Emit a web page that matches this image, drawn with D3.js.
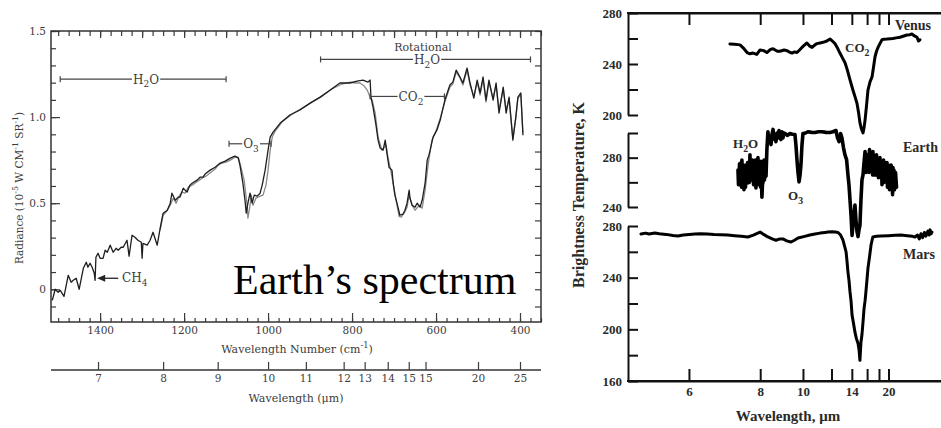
<!DOCTYPE html>
<html><head><meta charset="utf-8">
<script src="https://cdn.jsdelivr.net/npm/d3@7"></script>
<style>body{margin:0;background:#fff}svg{display:block}</style>
</head><body>
<svg id="c" width="941" height="428"></svg>
<script>
// ---------- LEFT PANEL DATA (wavenumber cm-1, radiance 1e-5 W cm-1 sr-1) ----------
const leftNuA = [1514,1507,1500,1495,1486,1476,1469,1464,1457,1450,1440,1433,1429,1424,1419,1414,1412,1410,1405,1400,1393,1388,1383,1376,1369,1362,1357,1350,1345,1336,1331,1324,1317,1310,1302,1300,1298,1288,1281,1274,1264,1257,1250,1240,1233,1229,1221,1214,1210,1202,1193,1186,1181,1169,1162,1155,1150,1138,1126,1114,1102,1090,1079,1071,1067,1060,1055,1052,1048,1043,1038,1033,1026,1019,1014,1007,1000,995,988,971,948,924,900,876,852,829,805,788,774,762,757,755,750,743,738,733,726,721,717,712,705,702,698,693,686,679,674,669,664,662,657,650,645,638,633,626,621,617,614,607,598,590,579,567,560,552,543,536,526,519,510,502,495,488,481,474,464,457,450,440,433,426,417,410,405,398,393];
const leftRadA = [-0.064,0.0,-0.017,-0.006,-0.041,0.081,0.041,0.052,0.064,0.0,0.122,0.157,0.128,0.151,0.128,0.093,0.052,0.186,0.209,0.180,0.180,0.227,0.215,0.256,0.215,0.238,0.227,0.244,0.244,0.285,0.192,0.314,0.302,0.285,0.273,0.180,0.267,0.256,0.285,0.331,0.256,0.355,0.442,0.459,0.500,0.558,0.517,0.535,0.535,0.587,0.564,0.605,0.616,0.634,0.651,0.651,0.669,0.692,0.709,0.733,0.744,0.762,0.773,0.762,0.721,0.616,0.517,0.442,0.500,0.558,0.500,0.547,0.541,0.558,0.605,0.692,0.808,0.884,0.913,0.965,1.012,1.041,1.081,1.116,1.157,1.198,1.198,1.209,1.215,1.203,1.215,1.116,1.058,0.953,0.866,0.820,0.808,0.866,0.791,0.709,0.692,0.616,0.547,0.500,0.430,0.436,0.459,0.500,0.576,0.529,0.488,0.477,0.500,0.477,0.517,0.616,0.750,0.779,0.808,0.884,0.924,0.983,1.099,1.186,1.203,1.273,1.233,1.198,1.285,1.198,1.110,1.215,1.140,1.233,1.099,1.215,1.099,1.198,1.023,1.174,1.023,1.116,0.866,1.000,1.116,1.140,0.895];
const leftNuB = [1257,1250,1243,1233,1226,1219,1212,1205,1198,1190,1181,1171,1164,1157,1148,1136,1126,1119,1110,1100,1090,1079,1071,1067,1057,1050,1048,1043,1040,1036,1029,1019,1012,1005,1000,995,990,983,967,943,919,895,871,848,824,805,793,781,771,764,757,752,745,738,729,719,714,707,695,688,683,676,669,664,657,650,640,633,626,619,610,600,590,579,567,560,552,543,536,526,519,510,502,495,488,481,474,464,457,450,440,433,426,417,410,405,398,393];
const leftRadB = [0.343,0.430,0.448,0.488,0.529,0.500,0.541,0.564,0.558,0.593,0.605,0.622,0.634,0.645,0.657,0.680,0.698,0.721,0.733,0.738,0.750,0.767,0.767,0.733,0.634,0.488,0.413,0.488,0.547,0.488,0.529,0.541,0.547,0.605,0.692,0.808,0.884,0.919,0.971,1.017,1.052,1.087,1.122,1.163,1.192,1.203,1.198,1.198,1.180,1.157,1.116,1.099,1.023,0.884,0.808,0.837,0.762,0.680,0.517,0.424,0.419,0.442,0.477,0.547,0.488,0.459,0.488,0.471,0.576,0.721,0.866,0.919,0.994,1.087,1.174,1.192,1.262,1.227,1.186,1.273,1.186,1.122,1.203,1.128,1.221,1.087,1.203,1.110,1.186,1.041,1.163,1.041,1.105,0.878,0.994,1.110,1.128,0.907];
const leftYTicks = [0, 0.5, 1.0, 1.5];
const leftYLabels = ["0", "0.5", "1.0", "1.5"];
const leftNuTicks = [1400, 1200, 1000, 800, 600, 400];
const micronTickNu = [1405, 1250, 1120, 1000, 910, 820, 770, 715, 665, 625, 500, 400];
const micronTickLabels = ["7", "8", "9", "10", "11", "12", "13", "14", "15", "15", "20", "25"];

// ---------- RIGHT PANEL DATA (wavenumber cm-1, brightness temperature K) ----------
const venusNu = [1427,1400,1368,1345,1327,1310,1292,1270,1251,1230,1211,1190,1175,1150,1135,1110,1094,1075,1064,1050,1035,1020,1006,990,977,960,947,930,918,900,883,860,842,828,813,800,784,770,754,740,725,708,695,684,675,667,658,649,643,637,628,620,608,596,587,579,570,561,550,538,525,509,490,474,455,433,410,392,375,363,348,333,325,316];
const venusT = [255.7,255.5,255,252,249,248,248.6,247.5,251,250.5,249,251.5,252,250,250,251,250.5,249,248.6,249.5,249,251,253,255,256.5,254,253,255,256,256.5,257,258,259.6,258,256,253,248.6,245,241,235,227.5,219.6,214,209,202,194,189,186,190,196,208,219.6,226,230,238,245.5,250,253,256,259,259.5,259.6,259.8,260,260.5,261,262,262.7,263,263.5,262,261,258,259];
const earthNu = [1380,1377,1374,1371,1368,1365,1362,1359,1357,1354,1351,1348,1345,1342,1339,1336,1333,1330,1327,1324,1322,1319,1316,1313,1310,1307,1304,1301,1298,1295,1292,1289,1287,1284,1281,1278,1275,1272,1269,1266,1263,1260,1257,1254,1251,1248,1246,1243,1240,1237,1234,1231,1228,1225,1222,1219,1216,1211,1205,1199,1193,1187,1181,1175,1170,1164,1158,1152,1146,1140,1134,1129,1123,1117,1111,1105,1090,1076,1062,1047,1041,1035,1029,1023,1017,1012,1006,1000,985,971,950,930,910,889,865,842,825,807,798,789,780,772,763,754,745,737,731,725,719,713,708,702,696,690,684,678,672,667,661,655,649,643,637,632,626,623,620,617,614,611,608,605,602,599,596,593,591,588,585,582,579,576,573,570,567,564,562,559,556,553,550,547,544,541,538,535,532,529,526,523,520,517,515,512,509,506,503,500,497,494,491,488,485,482,479,476,474,471,468,465,462,459,456,453,450,447,444,441,439,436,433];
const earthT = [270,258,262,275,258,272,276,256,278,262,260,274,254,270,271,256,274,262,262,276,259.6,272,276,260,282.4,264,266,272,262,278,275,258,274,270,263,278,255.5,268,270,258,280,262,268,276,266,256,277,262,248,258,260,274,278,262,270,276,265,286.5,301,294,296,290.6,299,302.9,295,298,293,300,296,302,297,294.7,301,296,300,299.6,298,299.6,299,298.8,290,278,268,260.4,266,274,290,299.6,300,301,300.5,300.4,301,301,300.5,300.4,301,302,296,293,299.6,296,288,282,278.4,266,258,245.7,233.5,217,225,233.5,241.6,229,220,216,222,225,245.7,262,266,276,285,268,270,280,274,283,268,286.5,272,278,270,284,281,266,285,270,268,282,266,279,274,282.4,266,270,278,263.7,275,272,280,266,264,276,258,272,266,278,260,265,276,262,270,264,276,256,258,274,268,254,262,268,274,256,262,250,272,262,270,254,258,268,262,256];
const marsNu = [1947,1920,1900,1866,1840,1800,1760,1731,1700,1665,1632,1600,1560,1520,1480,1439,1400,1360,1322,1290,1251,1230,1205,1180,1158,1135,1117,1095,1070,1050,1029,990,960,930,900,870,854,830,810,795,780,766,756,748,742,737,731,725,719,713,705,696,688,678,672,667,661,655,649,643,637,632,626,620,611,602,596,591,570,544,500,460,427,390,360,345,330,320,310,300,290,281,270,262,257,250,246];
const marsT = [273.8,274.5,273.8,274.6,274,273.5,272.6,272.2,273,273.5,273.8,274,273.8,273.4,273.2,273,272.5,272,271.5,273,275.3,273.5,271.5,270,269,270,270,268.5,267.6,269,270.7,272,273,273.8,274.5,275,275.3,275.5,275.3,275,273,269,264,260,252,244.3,238,229,222,211,205,197.8,193,189,184,176,190,196,205.6,216,222,229,238,247.4,256,265.3,269,271.5,272,272.2,272.5,272.8,273,272.5,272,271.5,273,270,274,271,275,272.2,276,273,277,274,275.3];
const rightTickMicrons = [6, 8, 10, 12, 14, 16, 18, 20];
const rightLabeledMicrons = [6, 8, 10, 14, 20];
const venusTicks = [280, 260, 240, 220, 200];
const earthTicks = [300, 280, 260, 240];
const marsTicks = [280, 260, 240, 220, 200, 180, 160];
const venusLabeled = [280, 240, 200];
const earthLabeled = [280, 240];
const marsLabeled = [280, 240, 200, 160];

// ---------- DRAW ----------
const svg = d3.select("#c");
const serif = "DejaVu Serif, serif";
const times = "Liberation Serif, Times New Roman, serif";
const lg = "#3c3c3c";

const xL = d3.scaleLinear().domain([1517, 350]).range([51, 541]);
const yL = d3.scaleLinear().domain([-0.19, 1.5]).range([322, 31]);
const L = svg.append("g");

function styleAxis(g, font, size, color, weight) {
  g.selectAll("path.domain").remove();
  g.selectAll("line").attr("stroke", color).attr("stroke-width", 1.2);
  g.selectAll("text").filter(function () { return !this.textContent; }).remove();
  g.selectAll("text").attr("font-family", font).attr("font-size", size).attr("fill", color).attr("font-weight", weight || "normal");
}

// rich text: parts [text, shift] shift 0 normal, 1 subscript, -1 superscript
function rich(t, parts, size, subK, supK) {
  let pending = 0;
  parts.forEach(p => {
    const s = t.append("tspan").text(p[0]);
    let dy = -pending;
    if (p[1] === 1) { dy += subK * size; pending = subK * size; s.attr("font-size", size * 0.75); }
    else if (p[1] === -1) { dy += -supK * size; pending = -supK * size; s.attr("font-size", size * 0.75); }
    else pending = 0;
    if (dy !== 0) s.attr("dy", dy);
  });
  return t;
}

const nuMinor = d3.range(1500, 349, -25);
const radMinor = d3.range(-0.1, 1.501, 0.1);
L.append("g").attr("transform", "translate(0,322)").call(d3.axisBottom(xL).tickValues(nuMinor).tickSizeInner(-4).tickSizeOuter(0).tickFormat("")).call(g => styleAxis(g, serif, 10, lg));
L.append("g").attr("transform", "translate(0,31)").call(d3.axisTop(xL).tickValues(nuMinor).tickSizeInner(-5).tickSizeOuter(0).tickFormat("")).call(g => styleAxis(g, serif, 10, lg));
L.append("g").attr("transform", "translate(0,31)").call(d3.axisTop(xL).tickValues(leftNuTicks.concat([1300,1100,900,700,500])).tickSizeInner(-7).tickSizeOuter(0).tickFormat("")).call(g => styleAxis(g, serif, 10, lg));
L.append("g").attr("transform", "translate(51,0)").call(d3.axisLeft(yL).tickValues(radMinor).tickSizeInner(-5).tickSizeOuter(0).tickFormat("")).call(g => styleAxis(g, serif, 10, lg));
L.append("g").attr("transform", "translate(541,0)").call(d3.axisRight(yL).tickValues(radMinor).tickSizeInner(-6).tickSizeOuter(0).tickFormat("")).call(g => styleAxis(g, serif, 10, lg));
L.append("g").attr("transform", "translate(0,322)").call(d3.axisBottom(xL).tickValues(leftNuTicks).tickSizeInner(-9).tickSizeOuter(0).tickPadding(5).tickFormat(d => String(d))).call(g => styleAxis(g, serif, 10.5, lg));
L.append("g").attr("transform", "translate(51,0)").call(d3.axisLeft(yL).tickValues(leftYTicks).tickSizeInner(-9).tickSizeOuter(0).tickPadding(5).tickFormat((d, i) => leftYLabels[i])).call(g => styleAxis(g, serif, 10.5, lg));
L.append("rect").attr("x", 51).attr("y", 31).attr("width", 490).attr("height", 291).attr("fill", "none").attr("stroke", "#333").attr("stroke-width", 1.5);

L.append("line").attr("x1", 51).attr("x2", 541).attr("y1", 370).attr("y2", 370).attr("stroke", "#333").attr("stroke-width", 1.3);
L.append("g").attr("transform", "translate(0,370)").call(d3.axisBottom(xL).tickValues(micronTickNu).tickSizeInner(-8).tickSizeOuter(0).tickPadding(5).tickFormat((d, i) => micronTickLabels[i])).call(g => styleAxis(g, serif, 10.5, lg));

const t1 = L.append("text").attr("x", 297).attr("y", 353).attr("text-anchor", "middle").attr("font-family", serif).attr("font-size", 11).attr("fill", lg);
rich(t1, [["Wavelength Number (cm", 0], ["-1", -1], [")", 0]], 11, 0.3, 0.45);
L.append("text").attr("x", 296).attr("y", 402).attr("text-anchor", "middle").attr("font-family", serif).attr("font-size", 11).attr("fill", lg).text("Wavelength (\u03bcm)");
const t3 = L.append("text").attr("transform", "translate(23,188) rotate(-90)").attr("text-anchor", "middle").attr("font-family", serif).attr("font-size", 10.5).attr("fill", lg);
rich(t3, [["Radiance (10", 0], ["-5", -1], [" W CM", 0], ["-1", -1], [" SR", 0], ["-1", -1], [")", 0]], 10.5, 0.3, 0.45);

const lineL = d3.line().x(d => xL(d[0])).y(d => yL(d[1]));
const ptsA = leftNuA.map((n, i) => [n, leftRadA[i]]);
const ptsB = leftNuB.map((n, i) => [n, leftRadB[i]]);
L.append("path").attr("d", lineL(ptsB)).attr("fill", "none").attr("stroke", "#8a8a8a").attr("stroke-width", 1.3).attr("stroke-linejoin", "round");
L.append("path").attr("d", lineL(ptsA)).attr("fill", "none").attr("stroke", "#1e1e1e").attr("stroke-width", 1.3).attr("stroke-linejoin", "round");

function chem(g, x, y, parts, size, anchor, font, color, weight) {
  const t = g.append("text").attr("x", x).attr("y", y).attr("text-anchor", anchor || "middle").attr("font-family", font).attr("font-size", size).attr("fill", color).attr("font-weight", weight || "normal");
  return rich(t, parts, size, 0.3, 0.45);
}
const bands = [
  {x1: 1495, x2: 1100, y: 1.22, label: [["H", 0], ["2", 1], ["O", 0]], cx: 146},
  {x1: 1093, x2: 993, y: 0.845, label: [["O", 0], ["3", 1]], cx: 251},
  {x1: 875, x2: 375, y: 1.335, label: [["H", 0], ["2", 1], ["O", 0]], cx: 427},
  {x1: 757, x2: 580, y: 1.12, label: [["CO", 0], ["2", 1]], cx: 411}
];
bands.forEach(b => {
  const y = yL(b.y), x1 = xL(b.x1), x2 = xL(b.x2);
  const t = chem(L, b.cx, y + 4.5, b.label, 12, "middle", serif, lg);
  const bb = t.node().getBBox();
  L.append("line").attr("x1", x1).attr("x2", bb.x - 1).attr("y1", y).attr("y2", y).attr("stroke", "#444").attr("stroke-width", 1.2);
  L.append("line").attr("x1", bb.x + bb.width + 1).attr("x2", x2).attr("y1", y).attr("y2", y).attr("stroke", "#444").attr("stroke-width", 1.2);
  [x1, x2].forEach(x => L.append("line").attr("x1", x).attr("x2", x).attr("y1", y - 3).attr("y2", y + 3).attr("stroke", "#444").attr("stroke-width", 1.2));
});
L.append("text").attr("x", 423).attr("y", 51).attr("text-anchor", "middle").attr("font-family", serif).attr("font-size", 11).attr("fill", lg).text("Rotational");
const ay = yL(0.064);
L.append("line").attr("x1", xL(1357)).attr("x2", xL(1402)).attr("y1", ay).attr("y2", ay).attr("stroke", "#222").attr("stroke-width", 1.3);
L.append("path").attr("d", `M${xL(1407)},${ay} l8,-3.5 l0,7 z`).attr("fill", "#222");
chem(L, 122, ay + 4, [["CH", 0], ["4", 1]], 12, "start", serif, lg);

L.append("text").attr("x", 233).attr("y", 294).attr("font-family", times).attr("font-size", 42).attr("fill", "#000").text("Earth\u2019s spectrum");

// ---------- RIGHT PANEL ----------
const R = svg.append("g");
const xR = d3.scaleLinear().domain([2023, 193]).range([628, 941]);
const yV = d3.scaleLinear().domain([200, 280]).range([115, 13]);
const yE = d3.scaleLinear().domain([240, 300]).range([207, 133]);
const yM = d3.scaleLinear().domain([160, 280]).range([381, 226]);
const rFont = times;

function styleR(g) {
  g.selectAll("path.domain").attr("stroke", "#111").attr("stroke-width", 2);
  g.selectAll("line").attr("stroke", "#111").attr("stroke-width", 2);
  g.selectAll("text").filter(function () { return !this.textContent; }).remove();
  g.selectAll("text").attr("font-family", rFont).attr("font-size", 13).attr("font-weight", "bold").attr("fill", "#2a2a2a");
}
[[yV, venusTicks, venusLabeled], [yE, earthTicks, earthLabeled], [yM, marsTicks, marsLabeled]].forEach(([ys, ticks, lab]) => {
  R.append("g").attr("transform", "translate(628,0)")
    .call(d3.axisLeft(ys).tickValues(ticks).tickSizeInner(-10).tickSizeOuter(0).tickPadding(6).tickFormat(d => lab.includes(d) ? String(d) : ""))
    .call(styleR);
});
const rTickNu = rightTickMicrons.map(m => 10000 / m);
R.append("g").attr("transform", "translate(0,381)")
  .call(d3.axisBottom(xR).tickValues(rTickNu).tickSizeInner(-12).tickSizeOuter(0).tickPadding(6).tickFormat((d, i) => rightLabeledMicrons.includes(rightTickMicrons[i]) ? String(rightTickMicrons[i]) : ""))
  .call(styleR);
R.append("g").attr("transform", "translate(0,13)")
  .call(d3.axisTop(xR).tickValues(rTickNu).tickSizeInner(-12).tickSizeOuter(0).tickFormat(""))
  .call(styleR);
R.append("line").attr("x1", 627).attr("x2", 941).attr("y1", 13).attr("y2", 13).attr("stroke", "#111").attr("stroke-width", 2);
R.append("line").attr("x1", 627).attr("x2", 941).attr("y1", 381).attr("y2", 381).attr("stroke", "#111").attr("stroke-width", 2);

function spec(nu, T, ys, w) {
  const ln = d3.line().x(d => xR(d[0])).y(d => ys(d[1]));
  R.append("path").attr("d", ln(nu.map((n, i) => [n, T[i]]))).attr("fill", "none").attr("stroke", "#000").attr("stroke-width", w).attr("stroke-linejoin", "round").attr("stroke-linecap", "round");
}
spec(venusNu, venusT, yV, 3);
spec(earthNu, earthT, yE, 3.6);
spec(marsNu, marsT, yM, 3);

function rText(x, y, parts, size, anchor) { return chem(R, x, y, parts, size, anchor || "start", rFont, "#2a2a2a", "bold"); }
rText(895, 30, [["Venus", 0]], 14);
rText(845, 52, [["CO", 0], ["2", 1]], 13);
rText(903, 152, [["Earth", 0]], 14);
rText(733, 148, [["H", 0], ["2", 1], ["O", 0]], 13);
rText(788, 200, [["O", 0], ["3", 1]], 13);
rText(903, 259, [["Mars", 0]], 14);
R.append("text").attr("x", 788).attr("y", 421).attr("text-anchor", "middle").attr("font-family", rFont).attr("font-size", 15).attr("font-weight", "bold").attr("fill", "#2a2a2a").text("Wavelength, \u03bcm");
R.append("text").attr("transform", "translate(584,195) rotate(-90)").attr("text-anchor", "middle").attr("font-family", rFont).attr("font-size", 16).attr("font-weight", "bold").attr("fill", "#2a2a2a").text("Brightness Temperature, K");
</script>
</body></html>
